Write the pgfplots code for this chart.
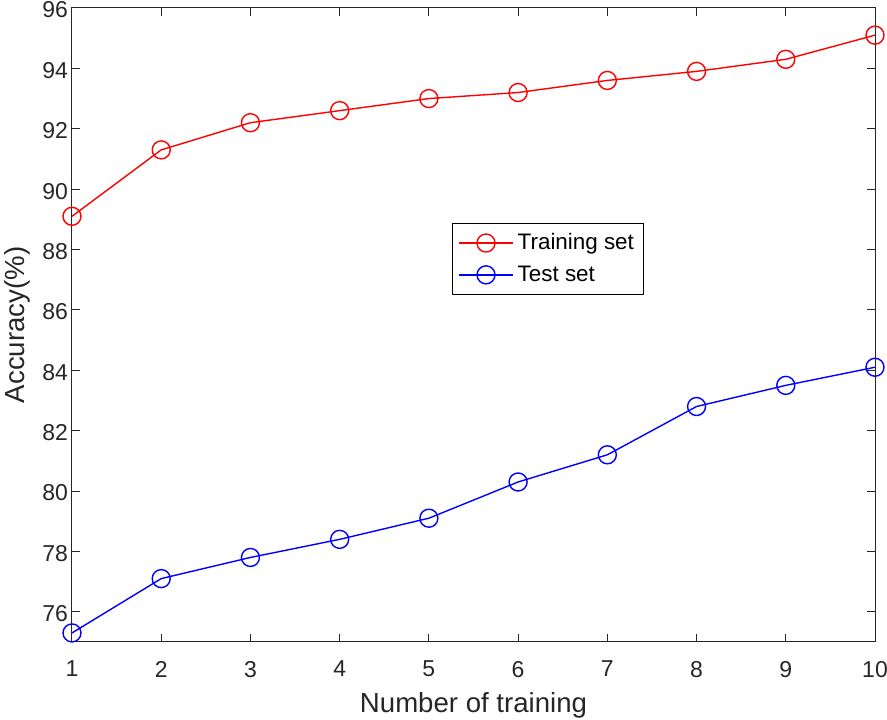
\documentclass[border=0pt]{standalone}
\usepackage{fontspec}
\setmainfont{Liberation Sans}
\usepackage{pgfplots}
\pgfplotsset{compat=1.18}
\usetikzlibrary{calc}
\definecolor{mred}{rgb}{1,0,0}
\definecolor{mblue}{rgb}{0,0,1}
\definecolor{axgray}{rgb}{0.15,0.15,0.15}
\begin{document}
\begin{tikzpicture}
\begin{axis}[
  scale only axis,
  width=401.5pt, height=317pt,
  xmin=1, xmax=10, ymin=75, ymax=96,
  xtick={1,...,10}, ytick={76,78,...,96},
  tick align=inside,
  major tick length=4pt,
  axis line style={axgray, line width=0.5pt},
  tick style={axgray, line width=0.5pt},
  every tick label/.style={text=axgray},
  /pgf/number format/assume math mode=true,
  tick label style={font=\fontsize{11.5}{13}\selectfont},
  xticklabel style={yshift=-6pt},
  yticklabel style={xshift=1.5pt, yshift=-1pt},
  label style={font=\fontsize{13.8}{15}\selectfont, text=axgray},
  xlabel={Number of training},
  ylabel={Accuracy(\%)},
  xlabel style={yshift=-0.5pt},
  ylabel style={yshift=-1pt},
  legend style={at={(0.473,0.661)}, anchor=north west, draw=black, line width=0.5pt,
    font=\fontsize{11.2}{13}\selectfont, inner xsep=3pt, inner ysep=3pt, row sep=2.5pt},
  legend image code/.code={\draw[mark repeat=2, mark phase=2] plot coordinates {(0pt,0pt) (13.5pt,0pt) (27pt,0pt)};},
  legend cell align=left,
]
\addplot[mred, line width=0.7pt, mark=o, mark size=4.5pt, mark options={solid, line width=0.7pt}]
  coordinates {(1,89.1) (2,91.3) (3,92.2) (4,92.6) (5,93.0) (6,93.2) (7,93.6) (8,93.9) (9,94.3) (10,95.1)};
\addlegendentry{Training set}
\addplot[mblue, line width=0.7pt, mark=o, mark size=4.5pt, mark options={solid, line width=0.7pt}]
  coordinates {(1,75.3) (2,77.1) (3,77.8) (4,78.4) (5,79.1) (6,80.3) (7,81.2) (8,82.8) (9,83.5) (10,84.1)};
\addlegendentry{Test set}
\end{axis}
\pgfresetboundingbox
\path[use as bounding box] ($(current axis.south west)+(-36pt,-39pt)$) rectangle ($(current axis.north east)+(6pt,4pt)$);
\end{tikzpicture}
\end{document}
